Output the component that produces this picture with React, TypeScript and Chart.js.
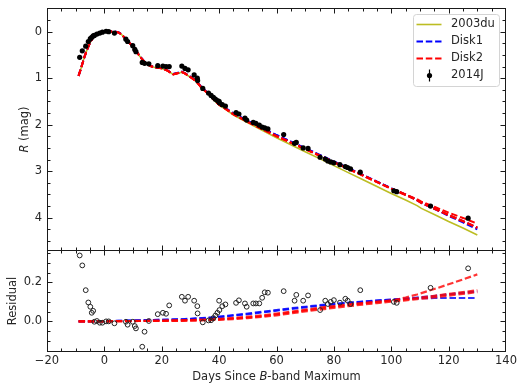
import React, { useEffect, useRef } from "react";
import { Chart, registerables } from "chart.js";

Chart.register(...registerables);

// ---------------- axes ----------------
const xMin = -20;
const xMax = 140;
const xMinorStep = 5;
const xTicks = [-20, 0, 20, 40, 60, 80, 100, 120, 140];
const xTickLabels = ["−20", "0", "20", "40", "60", "80", "100", "120", "140"];

const magMin = -0.51;
const magMax = 4.716;
const magMinorStep = 0.25;
const magTicks = [0, 1, 2, 3, 4];
const magTickLabels = ["0", "1", "2", "3", "4"];

const resMin = -0.157;
const resMax = 0.366;
const resMinorStep = 0.05;
const resTicks = [0, 0.2];
const resTickLabels = ["0.0", "0.2"];

const xTitleParts = [{ t: "Days Since " }, { t: "B", it: true }, { t: "-band Maximum" }];
const magTitleParts = [{ t: "R", it: true }, { t: " (mag)" }];
const resTitleParts = [{ t: "Residual" }];

const legendNames = ["2003du", "Disk1", "Disk2", "2014J"];

// ---------------- model curves ----------------
const modelDays = [
  -9, -8, -7, -6, -5, -4, -3, -2, -1, 0,
  1, 2, 3, 4, 5, 6, 7, 8, 9, 10, 11, 12, 13, 14, 15, 16, 17, 18,
  20, 22, 24, 26, 27, 28, 30, 32, 34, 36, 38, 40, 42,
  45, 50, 55, 60, 65, 70, 75, 80, 85, 90, 95, 100, 105,
  109, 110.5,
  115, 120, 125, 130,
];

const du2003 = [
  0.95, 0.76, 0.55, 0.38, 0.235, 0.13, 0.065, 0.025, 0.0, -0.015,
  -0.015, -0.005, 0.0, 0.005, 0.02, 0.06, 0.13, 0.2, 0.26, 0.33, 0.41, 0.5, 0.58, 0.65, 0.7, 0.74, 0.76, 0.775,
  0.79, 0.84, 0.92, 0.89, 0.87, 0.9, 0.98, 1.07, 1.22, 1.33, 1.46, 1.58, 1.66,
  1.79, 1.96, 2.12, 2.28, 2.43, 2.58, 2.73, 2.88, 3.03, 3.18, 3.33, 3.48, 3.62,
  3.74, 3.8,
  3.93, 4.08, 4.22, 4.37,
];

// residuals of the disk models relative to 2003du
const disk1aRes = [
  0, 0, 0, 0, 0, 0.001, 0.001, 0.001, 0.001, 0.001,
  0.002, 0.002, 0.002, 0.003, 0.003, 0.003, 0.004, 0.004, 0.004, 0.005, 0.005, 0.005, 0.006, 0.006, 0.007, 0.007, 0.007, 0.008,
  0.008, 0.009, 0.01, 0.011, 0.011, 0.012, 0.013, 0.015, 0.017, 0.019, 0.021, 0.024, 0.027,
  0.032, 0.04, 0.049, 0.058, 0.067, 0.075, 0.083, 0.09, 0.096, 0.101, 0.107, 0.112, 0.116,
  0.118, 0.119,
  0.12, 0.12, 0.12, 0.12,
];
const disk1bRes = [
  0, 0, 0, 0, 0, 0, 0.001, 0.001, 0.001, 0.001,
  0.001, 0.002, 0.002, 0.002, 0.003, 0.003, 0.003, 0.004, 0.004, 0.004, 0.005, 0.005, 0.005, 0.006, 0.006, 0.006, 0.007, 0.007,
  0.008, 0.008, 0.009, 0.01, 0.01, 0.011, 0.012, 0.014, 0.016, 0.018, 0.02, 0.022, 0.025,
  0.03, 0.037, 0.046, 0.055, 0.064, 0.072, 0.08, 0.087, 0.094, 0.1, 0.106, 0.111, 0.117,
  0.122, 0.124,
  0.13, 0.138, 0.146, 0.154,
];
const disk2aRes = [
  0, 0, 0, 0, 0, 0, 0, 0, 0, 0,
  0, 0.001, 0.001, 0.001, 0.001, 0.001, 0.001, 0.002, 0.002, 0.002, 0.002, 0.002, 0.002, 0.002, 0.003, 0.003, 0.003, 0.003,
  0.003, 0.003, 0.004, 0.004, 0.004, 0.005, 0.005, 0.006, 0.007, 0.008, 0.009, 0.01, 0.012,
  0.015, 0.02, 0.027, 0.036, 0.046, 0.056, 0.066, 0.075, 0.084, 0.092, 0.099, 0.107, 0.122,
  0.138, 0.145,
  0.166, 0.19, 0.215, 0.241,
];
const disk2bRes = [
  0, 0, 0, 0, 0, 0, 0, 0, 0, 0,
  0, 0.001, 0.001, 0.001, 0.001, 0.001, 0.002, 0.002, 0.002, 0.002, 0.003, 0.003, 0.003, 0.003, 0.003, 0.004, 0.004, 0.004,
  0.004, 0.005, 0.005, 0.006, 0.006, 0.007, 0.007, 0.008, 0.009, 0.01, 0.012, 0.013, 0.015,
  0.018, 0.024, 0.031, 0.04, 0.05, 0.06, 0.07, 0.079, 0.087, 0.094, 0.101, 0.107, 0.113,
  0.12, 0.123,
  0.131, 0.141, 0.15, 0.16,
];
const disk2cRes = [
  0, 0, 0, 0, 0, 0, 0, 0, 0, 0,
  0, 0, 0, 0.001, 0.001, 0.001, 0.001, 0.001, 0.001, 0.001, 0.001, 0.002, 0.002, 0.002, 0.002, 0.002, 0.002, 0.002,
  0.002, 0.002, 0.003, 0.003, 0.003, 0.003, 0.004, 0.004, 0.005, 0.006, 0.007, 0.008, 0.01,
  0.012, 0.017, 0.023, 0.031, 0.041, 0.051, 0.06, 0.069, 0.078, 0.086, 0.094, 0.101, 0.108,
  0.114, 0.116,
  0.123, 0.132, 0.141, 0.15,
];

// ---------------- SN 2014J observations ----------------
const obsDays = [
  -8.6, -7.7, -6.5, -5.6, -4.9, -4.4, -3.9, -3.5, -2.6, -1.6,
  -0.7, 0.6, 1.5, 3.5, 7.5, 8.1, 9.9, 10.6, 11.0, 13.2,
  14.0, 15.5, 18.6, 20.4, 21.5, 22.6, 27.0, 28.1, 29.2, 31.3,
  32.4, 32.5, 34.3, 36.3, 37.2, 38.0, 38.7, 39.4, 40.0, 40.1,
  41.1, 42.2, 45.9, 46.9, 49.0, 49.6, 51.9, 52.8, 54.0, 55.0,
  55.9, 57.0, 62.5, 66.3, 66.9, 69.3, 71.0, 75.2, 77.0, 77.9,
  78.9, 80.0, 82.1, 84.0, 84.8, 85.8, 89.2, 100.9, 101.9, 113.7,
  126.8,
];
const obsMag = [
  0.55, 0.41, 0.31, 0.21, 0.15, 0.12, 0.09, 0.08, 0.05, 0.03,
  0.01, -0.01, 0.0, 0.03, 0.16, 0.21, 0.3, 0.38, 0.43, 0.66,
  0.68, 0.69, 0.73, 0.74, 0.75, 0.75, 0.74, 0.79, 0.82, 0.93,
  1.0, 1.05, 1.22, 1.32, 1.37, 1.41, 1.45, 1.48, 1.5, 1.53,
  1.57, 1.6, 1.74, 1.77, 1.86, 1.9, 1.95, 1.97, 2.01, 2.05,
  2.07, 2.09, 2.21, 2.4, 2.38, 2.5, 2.51, 2.7, 2.74, 2.78,
  2.8, 2.82, 2.86, 2.9, 2.92, 2.95, 3.02, 3.42, 3.44, 3.75,
  4.01,
];
const obsRes = [
  0.338, 0.287, 0.16, 0.097, 0.075, 0.044, 0.054, -0.002, 0.002, -0.007,
  -0.007, 0.0, 0.0, -0.01, -0.002, -0.017, -0.002, -0.024, -0.036, -0.13,
  -0.053, 0.002, 0.037, 0.044, 0.039, 0.082, 0.126, 0.106, 0.126, 0.106,
  0.078, 0.041, -0.005, 0.005, 0.006, 0.017, 0.03, 0.044, 0.106, 0.058,
  0.078, 0.087, 0.095, 0.108, 0.092, 0.075, 0.092, 0.092, 0.092, 0.121,
  0.149, 0.147, 0.155, 0.106, 0.136, 0.106, 0.133, 0.058, 0.106, 0.089,
  0.1, 0.109, 0.096, 0.116, 0.106, 0.089, 0.16, 0.1, 0.095, 0.172,
  0.272,
];

// ---------------- style ----------------
const FONT = "'DejaVu Sans', 'Liberation Sans', Arial, sans-serif";
const FS = 11.5;
const INK = "#262626";
const C_DU = "#bcbd22";
const C_D1 = "#0000ff";
const C_D2 = "#ff0000";
const DASH = [6.5, 2.8];

type Part = { t: string; it?: boolean };

const pts = (xs: number[], ys: number[]) => xs.map((x, i) => ({ x, y: ys[i] }));
const minus = (a: number[], b: number[]) => a.map((v, i) => v - b[i]);

function tickLabel(values: number[], labels: string[], v: number) {
  const i = values.findIndex((t) => Math.abs(t - v) < 1e-9);
  return i >= 0 ? labels[i] : "";
}

function drawFrame(chart: any, yId: string, yMajors: number[], yMinorStep: number) {
  const { ctx, chartArea: a } = chart;
  const xs = chart.scales.x;
  const ys = chart.scales[yId];
  const L = Math.round(a.left) + 0.5;
  const R = Math.round(a.right) - 0.5;
  const T = Math.round(a.top) + 0.5;
  const B = Math.round(a.bottom) - 0.5;
  const isMaj = (v: number, m: number[]) => m.some((q) => Math.abs(q - v) < 1e-6);
  const clamp = (p: number, lo: number, hi: number) => Math.max(lo, Math.min(hi, p));
  ctx.save();
  ctx.strokeStyle = "#1a1a1a";
  ctx.lineWidth = 1;
  ctx.setLineDash([]);
  ctx.beginPath();
  for (let k = Math.ceil(xMin / xMinorStep); k * xMinorStep <= xMax + 1e-9; k++) {
    const v = k * xMinorStep;
    const len = isMaj(v, xTicks) ? 5 : 3;
    const p = clamp(Math.round(xs.getPixelForValue(v)) + 0.5, L, R);
    ctx.moveTo(p, T);
    ctx.lineTo(p, T + len);
    ctx.moveTo(p, B);
    ctx.lineTo(p, B - len);
  }
  for (let k = Math.ceil(ys.min / yMinorStep - 1e-9); k * yMinorStep <= ys.max + 1e-9; k++) {
    const v = k * yMinorStep;
    const len = isMaj(v, yMajors) ? 5 : 3;
    const p = clamp(Math.round(ys.getPixelForValue(v)) + 0.5, T, B);
    ctx.moveTo(L, p);
    ctx.lineTo(L + len, p);
    ctx.moveTo(R, p);
    ctx.lineTo(R - len, p);
  }
  ctx.stroke();
  ctx.strokeRect(L, T, R - L, B - T);
  ctx.restore();
}

function drawRich(ctx: CanvasRenderingContext2D, parts: Part[], cx: number, cy: number, vertical: boolean) {
  ctx.save();
  ctx.translate(cx, cy);
  if (vertical) ctx.rotate(-Math.PI / 2);
  ctx.fillStyle = INK;
  ctx.textBaseline = "middle";
  ctx.textAlign = "left";
  const fontOf = (p: Part) => `${p.it ? "italic " : ""}${FS}px ${FONT}`;
  let total = 0;
  const widths = parts.map((p) => {
    ctx.font = fontOf(p);
    const w = ctx.measureText(p.t).width;
    total += w;
    return w;
  });
  let x = -total / 2;
  parts.forEach((p, i) => {
    ctx.font = fontOf(p);
    ctx.fillText(p.t, x, 0);
    x += widths[i];
  });
  ctx.restore();
}

function drawLegend(chart: any) {
  const { ctx, chartArea: a } = chart;
  const w = 86;
  const h = 72;
  const x0 = Math.round(a.right) - 6.5 - w;
  const y0 = Math.round(a.top) + 6.5;
  const r = 3;
  ctx.save();
  ctx.beginPath();
  ctx.moveTo(x0 + r, y0);
  ctx.lineTo(x0 + w - r, y0);
  ctx.arcTo(x0 + w, y0, x0 + w, y0 + r, r);
  ctx.lineTo(x0 + w, y0 + h - r);
  ctx.arcTo(x0 + w, y0 + h, x0 + w - r, y0 + h, r);
  ctx.lineTo(x0 + r, y0 + h);
  ctx.arcTo(x0, y0 + h, x0, y0 + h - r, r);
  ctx.lineTo(x0, y0 + r);
  ctx.arcTo(x0, y0, x0 + r, y0, r);
  ctx.closePath();
  ctx.fillStyle = "rgba(255,255,255,0.85)";
  ctx.fill();
  ctx.strokeStyle = "#d4d4d4";
  ctx.lineWidth = 1;
  ctx.stroke();

  const styles = [
    { color: C_DU, dash: [] as number[], width: 1.6 },
    { color: C_D1, dash: DASH, width: 2 },
    { color: C_D2, dash: DASH, width: 2 },
  ];
  ctx.font = `${FS}px ${FONT}`;
  ctx.textBaseline = "middle";
  ctx.textAlign = "left";
  legendNames.forEach((name, i) => {
    const y = y0 + 10 + i * 17;
    if (i < 3) {
      const s = styles[i];
      ctx.beginPath();
      ctx.setLineDash(s.dash);
      ctx.strokeStyle = s.color;
      ctx.lineWidth = s.width;
      ctx.moveTo(x0 + 3, y);
      ctx.lineTo(x0 + 28, y);
      ctx.stroke();
      ctx.setLineDash([]);
    } else {
      const mx = x0 + 16;
      ctx.beginPath();
      ctx.strokeStyle = "#000";
      ctx.lineWidth = 1.2;
      ctx.moveTo(mx, y - 6);
      ctx.lineTo(mx, y + 6);
      ctx.stroke();
      ctx.beginPath();
      ctx.fillStyle = "#000";
      ctx.arc(mx, y, 2.6, 0, Math.PI * 2);
      ctx.fill();
    }
    ctx.fillStyle = INK;
    ctx.fillText(name, x0 + 37.5, y);
  });
  ctx.restore();
}

const tickFont = { family: FONT, size: FS };

function xScale(display: boolean) {
  const s: any = {
    type: "linear",
    min: xMin,
    max: xMax,
    display,
    grid: { display: false, drawTicks: false },
    border: { display: false },
    afterBuildTicks: (sc: any) => {
      sc.ticks = xTicks.map((v) => ({ value: v }));
    },
    ticks: {
      autoSkip: false,
      maxRotation: 0,
      minRotation: 0,
      padding: 2,
      color: INK,
      font: tickFont,
      callback: (v: any) => tickLabel(xTicks, xTickLabels, Number(v)),
    },
  };
  if (display)
    s.afterFit = (sc: any) => {
      sc.height = 33;
      sc.paddingLeft = 0;
      sc.paddingRight = 0;
    };
  return s;
}

function yScale(min: number, max: number, reverse: boolean, majors: number[], labels: string[]) {
  return {
    type: "linear",
    min,
    max,
    reverse,
    grid: { display: false, drawTicks: false },
    border: { display: false },
    afterBuildTicks: (sc: any) => {
      sc.ticks = majors.map((v) => ({ value: v }));
    },
    afterFit: (sc: any) => {
      sc.width = 47;
      sc.paddingTop = 0;
      sc.paddingBottom = 0;
    },
    ticks: {
      autoSkip: false,
      padding: 5,
      color: INK,
      font: tickFont,
      callback: (v: any) => tickLabel(majors, labels, Number(v)),
    },
  };
}

const lineDs = (label: string, ys: number[], color: string, width: number, dash: number[], order: number) => ({
  label,
  data: pts(modelDays, ys),
  borderColor: color,
  borderWidth: width,
  borderDash: dash,
  pointRadius: 0,
  fill: false,
  tension: 0,
  order,
});

export default function App() {
  const topRef = useRef<HTMLCanvasElement>(null);
  const botRef = useRef<HTMLCanvasElement>(null);

  useEffect(() => {
    document.body.style.margin = "0";
    const common: any = {
      responsive: false,
      animation: false,
      events: [],
      plugins: { legend: { display: false }, tooltip: { enabled: false } },
    };

    const top = new Chart(topRef.current as HTMLCanvasElement, {
      type: "line",
      data: {
        datasets: [
          {
            label: "2014J",
            data: pts(obsDays, obsMag),
            showLine: false,
            pointRadius: 2.6,
            pointBackgroundColor: "#000",
            pointBorderWidth: 0,
            order: 0,
          } as any,
          lineDs("Disk2", minus(du2003, disk2aRes), C_D2, 2, DASH, 1),
          lineDs("Disk2", minus(du2003, disk2bRes), C_D2, 2, DASH, 1),
          lineDs("Disk2", minus(du2003, disk2cRes), C_D2, 2, DASH, 1),
          lineDs("Disk1", minus(du2003, disk1aRes), C_D1, 2, DASH, 2),
          lineDs("Disk1", minus(du2003, disk1bRes), C_D1, 2, DASH, 2),
          lineDs("2003du", du2003, C_DU, 1.6, [], 3),
        ],
      },
      options: {
        ...common,
        layout: { padding: { left: 0, top: 8, right: 13, bottom: 134 } },
        scales: {
          x: xScale(false),
          y: yScale(magMin, magMax, true, magTicks, magTickLabels),
        },
      },
      plugins: [
        {
          id: "decorTop",
          afterDatasetsDraw(chart: any) {
            drawLegend(chart);
          },
          afterDraw(chart: any) {
            drawFrame(chart, "y", magTicks, magMinorStep);
            const a = chart.chartArea;
            drawRich(chart.ctx, magTitleParts, 25, (a.top + a.bottom) / 2, true);
          },
        },
      ],
    } as any);

    const rc = (c: string) => (c === C_D1 ? "rgba(0,0,255,0.8)" : "rgba(255,0,0,0.8)");
    const bot = new Chart(botRef.current as HTMLCanvasElement, {
      type: "line",
      data: {
        datasets: [
          {
            label: "2014J",
            data: pts(obsDays, obsRes),
            showLine: false,
            pointRadius: 2.4,
            pointBackgroundColor: "rgba(0,0,0,0)",
            pointBorderColor: "#222",
            pointBorderWidth: 1,
            order: 0,
          } as any,
          lineDs("Disk2", disk2aRes, rc(C_D2), 2.2, DASH, 1),
          lineDs("Disk2", disk2bRes, rc(C_D2), 2.2, DASH, 1),
          lineDs("Disk2", disk2cRes, rc(C_D2), 2.2, DASH, 1),
          lineDs("Disk1", disk1aRes, rc(C_D1), 2.2, DASH, 2),
          lineDs("Disk1", disk1bRes, rc(C_D1), 2.2, DASH, 2),
        ],
      },
      options: {
        ...common,
        layout: { padding: { left: 0, top: 250, right: 13, bottom: 0 } },
        scales: {
          x: xScale(true),
          y: yScale(resMin, resMax, false, resTicks, resTickLabels),
        },
      },
      plugins: [
        {
          id: "decorBottom",
          afterDraw(chart: any) {
            drawFrame(chart, "y", resTicks, resMinorStep);
            const a = chart.chartArea;
            drawRich(chart.ctx, resTitleParts, 13.3, (a.top + a.bottom) / 2, true);
            drawRich(chart.ctx, xTitleParts, (a.left + a.right) / 2, 377, false);
          },
        },
      ],
    } as any);

    return () => {
      top.destroy();
      bot.destroy();
    };
  }, []);

  return (
    <div style={{ position: "relative", width: 519, height: 385, background: "#fff", overflow: "hidden" }}>
      <canvas ref={botRef} width={519} height={385} style={{ position: "absolute", left: 0, top: 0 }} />
      <canvas ref={topRef} width={519} height={385} style={{ position: "absolute", left: 0, top: 0 }} />
    </div>
  );
}
